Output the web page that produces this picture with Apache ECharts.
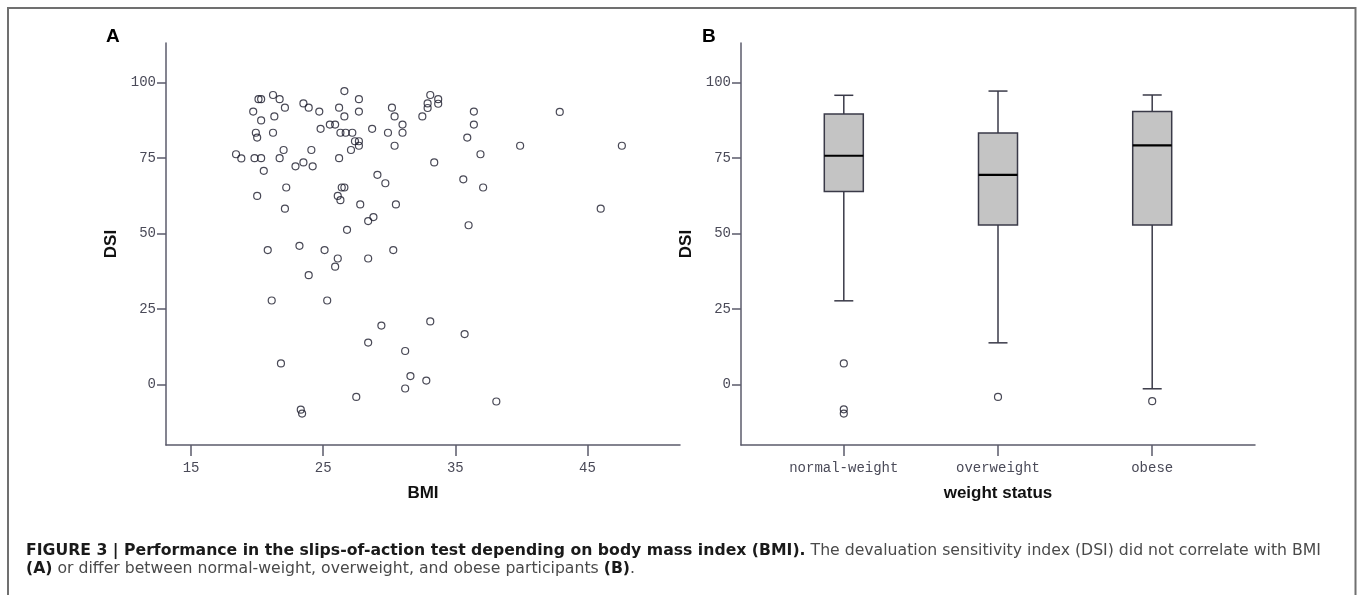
<!DOCTYPE html>
<html>
<head>
<meta charset="utf-8">
<script src="https://cdn.jsdelivr.net/npm/echarts@6/dist/echarts.min.js"></script>
<style>
  html, body { margin: 0; padding: 0; background: #fff; }
  #chart { width: 1358px; height: 595px; }
</style>
</head>
<body>
<div id="chart"></div>
<script>
// panel A: one point per participant, [BMI, DSI]
const bmiDsi = [
  [18.4, 76.2], [18.8, 74.8], [19.8, 74.9], [20.3, 74.9], [19.7, 90.3], [20.1, 94.4], [20.3, 94.4],
  [20.3, 87.4], [19.9, 83.3], [20.0, 81.7], [20.0, 62.4], [20.5, 70.7], [21.2, 95.8], [21.7, 94.4],
  [22.1, 91.6], [21.3, 88.7], [21.2, 83.3], [22.0, 77.6], [21.7, 74.9], [22.2, 65.2], [22.1, 58.2],
  [22.9, 72.2], [23.5, 93.0], [23.9, 91.6], [23.5, 73.5], [24.1, 77.6], [24.2, 72.2], [24.7, 90.3],
  [24.8, 84.6], [25.5, 86.0], [25.9, 86.0], [26.2, 91.6], [26.6, 88.7], [26.6, 97.1], [26.3, 83.3],
  [26.7, 83.3], [27.2, 83.3], [26.2, 74.9], [27.1, 77.6], [27.4, 80.5], [27.7, 80.5], [27.7, 79.0],
  [27.7, 94.4], [27.7, 90.3], [28.7, 84.6], [26.4, 65.2], [26.6, 65.2], [26.1, 62.4], [26.3, 61.0],
  [27.8, 59.6], [29.1, 69.4], [29.7, 66.6], [28.4, 54.1], [28.8, 55.4], [26.8, 51.2], [30.2, 91.6],
  [30.4, 88.7], [31.0, 86.0], [29.9, 83.3], [31.0, 83.3], [30.4, 79.0], [30.5, 59.6], [32.5, 88.7],
  [32.9, 93.0], [32.9, 91.5], [33.1, 95.8], [33.7, 94.4], [33.7, 92.9], [33.4, 73.5], [36.4, 90.3],
  [36.4, 86.0], [35.9, 81.7], [36.9, 76.2], [35.6, 67.9], [37.1, 65.2], [36.0, 52.7], [39.9, 79.0],
  [42.9, 90.2], [47.6, 79.0], [46.0, 58.2], [20.8, 44.5], [23.2, 45.9], [25.1, 44.5], [26.1, 41.7],
  [25.9, 39.0], [23.9, 36.2], [28.4, 41.7], [21.1, 27.8], [25.3, 27.8], [29.4, 19.5], [28.4, 13.9],
  [21.8, 7.0], [23.3, -8.3], [23.4, -9.6], [27.5, -4.1], [30.3, 44.5], [33.1, 20.9], [35.7, 16.7],
  [31.2, 11.1], [31.6, 2.8], [32.8, 1.3], [31.2, -1.3], [38.1, -5.6]
]

// panel B
const weightGroups = ['normal-weight', 'overweight', 'obese']
// [lower whisker, Q1, median, Q3, upper whisker]
const groupBoxes = [
  [27.7, 63.9, 75.7, 89.5, 95.7],
  [13.8, 52.8, 69.4, 83.2, 97.1],
  [-1.4, 52.8, 79.1, 90.3, 95.8]
]
const groupOutliers = [[0, 7.0], [0, -8.2], [0, -9.6], [1, -4.1], [2, -5.5]]

const dsiTicks = [0, 25, 50, 75, 100]
const bmiTicks = [15, 25, 35, 45]
const groupTicks = [0, 1, 2]

const axisInk = '#5b5b6b'
const labelInk = '#4a4a58'
const boxInk = '#3a3a48'
const mono = '"Liberation Mono", "Courier New", monospace'
const sans = '"Liberation Sans", Arial, sans-serif'
const captionFont = '"DejaVu Sans", sans-serif'

function renderBox(params, api) {
  const x = api.value(0)
  const lo = api.coord([x, api.value(1)])
  const q1 = api.coord([x, api.value(2)])
  const med = api.coord([x, api.value(3)])
  const q3 = api.coord([x, api.value(4)])
  const hi = api.coord([x, api.value(5)])
  const half = 19.5
  const cap = 9.5
  const line = { stroke: boxInk, lineWidth: 1.5, fill: null }
  const cx = lo[0]
  return {
    type: 'group',
    children: [
      { type: 'line', shape: { x1: cx, y1: lo[1], x2: cx, y2: q1[1] }, style: line },
      { type: 'line', shape: { x1: cx, y1: q3[1], x2: cx, y2: hi[1] }, style: line },
      { type: 'line', shape: { x1: cx - cap, y1: lo[1], x2: cx + cap, y2: lo[1] }, style: line },
      { type: 'line', shape: { x1: cx - cap, y1: hi[1], x2: cx + cap, y2: hi[1] }, style: line },
      { type: 'rect', shape: { x: cx - half, y: q3[1], width: half * 2, height: q1[1] - q3[1] },
        style: { fill: '#c4c4c4', stroke: boxInk, lineWidth: 1.5 } },
      { type: 'line', shape: { x1: cx - half, y1: med[1], x2: cx + half, y2: med[1] },
        style: { stroke: '#000', lineWidth: 2.2 } }
    ]
  }
}

function dsiAxis(gridIndex) {
  return {
    type: 'value',
    gridIndex,
    min: -20,
    max: 113,
    name: 'DSI',
    nameLocation: 'middle',
    nameGap: 46,
    nameTextStyle: { fontFamily: sans, fontWeight: 'bold', fontSize: 17, color: '#111' },
    axisLine: { show: true, onZero: false, lineStyle: { color: axisInk, width: 1.5 } },
    axisTick: { show: true, length: 9, customValues: dsiTicks, lineStyle: { color: axisInk, width: 1.5 } },
    axisLabel: { customValues: dsiTicks, margin: 10, color: labelInk, fontFamily: mono, fontSize: 14 },
    splitLine: { show: false }
  }
}

function bottomAxis(gridIndex, extra) {
  return Object.assign({
    type: 'value',
    gridIndex,
    nameLocation: 'middle',
    nameGap: 40,
    nameTextStyle: { fontFamily: sans, fontWeight: 'bold', fontSize: 17, color: '#111' },
    axisLine: { show: true, onZero: false, lineStyle: { color: axisInk, width: 1.5 } },
    splitLine: { show: false }
  }, extra)
}

const chart = echarts.init(document.getElementById('chart'), null, { renderer: 'canvas' })

chart.setOption({
  backgroundColor: '#fff',
  animation: false,
  grid: [
    { left: 166, right: 678, top: 43, bottom: 150 },
    { left: 741, right: 103, top: 43, bottom: 150 }
  ],
  xAxis: [
    bottomAxis(0, {
      min: 13.1,
      max: 52,
      name: 'BMI',
      axisTick: { show: true, length: 11, customValues: bmiTicks, lineStyle: { color: axisInk, width: 1.5 } },
      axisLabel: { customValues: bmiTicks, margin: 16, color: labelInk, fontFamily: mono, fontSize: 14 }
    }),
    bottomAxis(1, {
      min: -2 / 3,
      max: 8 / 3,
      name: 'weight status',
      axisTick: { show: true, length: 11, customValues: groupTicks, lineStyle: { color: axisInk, width: 1.5 } },
      axisLabel: {
        customValues: groupTicks,
        margin: 16,
        color: labelInk,
        fontFamily: mono,
        fontSize: 14,
        formatter: (value) => weightGroups[Math.round(value)] ?? ''
      }
    })
  ],
  yAxis: [dsiAxis(0), dsiAxis(1)],
  series: [
    {
      name: 'participants',
      type: 'scatter',
      xAxisIndex: 0,
      yAxisIndex: 0,
      data: bmiDsi,
      symbol: 'circle',
      symbolSize: 7,
      itemStyle: { color: 'rgba(0,0,0,0)', borderColor: '#1c1c2c', borderWidth: 1.2 },
      silent: true
    },
    {
      name: 'boxes',
      type: 'custom',
      xAxisIndex: 1,
      yAxisIndex: 1,
      data: groupBoxes.map((box, i) => [i, ...box]),
      encode: { x: 0, y: [1, 2, 3, 4, 5] },
      renderItem: renderBox,
      silent: true
    },
    {
      name: 'outliers',
      type: 'scatter',
      xAxisIndex: 1,
      yAxisIndex: 1,
      data: groupOutliers,
      symbol: 'circle',
      symbolSize: 7,
      itemStyle: { color: 'rgba(0,0,0,0)', borderColor: '#1c1c2c', borderWidth: 1.2 },
      silent: true
    }
  ],
  graphic: [
    { type: 'rect', shape: { x: 8, y: 8, width: 1347.5, height: 620 },
      style: { fill: null, stroke: '#707070', lineWidth: 2 }, silent: true },
    { type: 'text', left: 106, top: 27,
      style: { text: 'A', font: `bold 19px ${sans}`, fill: '#000' } },
    { type: 'text', left: 702, top: 27,
      style: { text: 'B', font: `bold 19px ${sans}`, fill: '#000' } },
    { type: 'text', left: 26, top: 543,
      style: {
        text: '{b|FIGURE 3 | Performance in the slips-of-action test depending on body mass index (BMI).}{r| The devaluation sensitivity index (DSI) did not correlate with BMI}',
        rich: {
          b: { font: `bold 15.7px ${captionFont}`, fill: '#1a1a1a' },
          r: { font: `15.7px ${captionFont}`, fill: '#4a4a4a' }
        }
      } },
    { type: 'text', left: 26, top: 561,
      style: {
        text: '{b|(A)}{r| or differ between normal-weight, overweight, and obese participants }{b|(B)}{r|.}',
        rich: {
          b: { font: `bold 15.7px ${captionFont}`, fill: '#1a1a1a' },
          r: { font: `15.7px ${captionFont}`, fill: '#4a4a4a' }
        }
      } }
  ]
})
</script>
</body>
</html>
